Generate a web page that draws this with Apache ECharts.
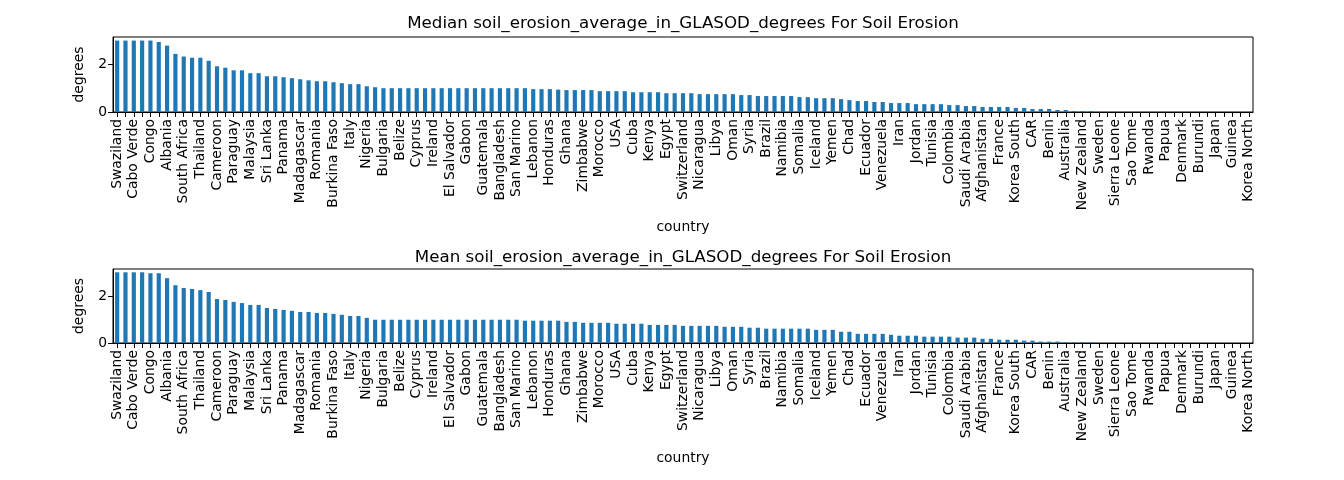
<!DOCTYPE html>
<html lang="en">
<head>
<meta charset="UTF-8">
<title>Soil Erosion</title>
<script src="https://cdn.jsdelivr.net/npm/echarts@6/dist/echarts.min.js"></script>
<style>
	html,body{margin:0;padding:0;background:#fff;}
	#chart{width:1344px;height:480px;}
</style>
</head>
<body>
<div id="chart"></div>
<script>
	// countries, sorted by median (every other one gets a label in the picture)
	var countries = ['Swaziland','Lesotho','Cabo Verde','Haiti','Congo','Nepal','Albania','Eritrea','South Africa','Ethiopia',
		'Thailand','Uganda','Cameroon','Tanzania','Paraguay','Mozambique','Malaysia','Malawi','Sri Lanka','Zambia',
		'Panama','Angola','Madagascar','Botswana','Romania','Mali','Burkina Faso','Niger','Italy','Senegal',
		'Nigeria','Togo','Bulgaria','Liberia','Belize','Sudan','Cyprus','Algeria','Ireland','Mauritania',
		'El Salvador','India','Gabon','Pakistan','Guatemala','China','Bangladesh','Vietnam','San Marino','Laos',
		'Lebanon','Cambodia','Honduras','Myanmar','Ghana','Philippines','Zimbabwe','Indonesia','Morocco','Mexico',
		'USA','Peru','Cuba','Bolivia','Kenya','Chile','Egypt','Argentina','Switzerland','Uruguay',
		'Nicaragua','Guyana','Libya','Suriname','Oman','Jamaica','Syria','Dominica','Brazil','Greece',
		'Namibia','Spain','Somalia','Portugal','Iceland','Turkey','Yemen','Iraq','Chad','Kuwait',
		'Ecuador','Qatar','Venezuela','Israel','Iran','Georgia','Jordan','Armenia','Tunisia','Hungary',
		'Colombia','Poland','Saudi Arabia','Germany','Afghanistan','Austria','France','Belgium','Korea South','Netherlands',
		'CAR','Norway','Benin','Finland','Australia','Canada','New Zealand','UK','Sweden','Fiji',
		'Sierra Leone','Mongolia','Sao Tome','Kazakhstan','Rwanda','Bhutan','Papua','Estonia','Denmark','Latvia',
		'Burundi','Serbia','Japan','Croatia','Guinea','Slovenia','Korea North'];

	var medianVals = [3.0,3.0,3.0,3.0,3.0,2.94,2.79,2.44,2.33,2.28,
		2.28,2.15,1.92,1.86,1.75,1.75,1.63,1.63,1.5,1.5,
		1.46,1.42,1.375,1.33,1.29,1.29,1.25,1.21,1.17,1.17,
		1.08,1.04,1.0,1.0,1.0,1.0,1.0,1.0,1.0,1.0,
		1.0,1.0,1.0,1.0,1.0,1.0,1.0,1.0,1.0,1.0,
		0.96,0.96,0.96,0.94,0.92,0.92,0.92,0.92,0.875,0.875,
		0.875,0.875,0.83,0.83,0.83,0.83,0.79,0.79,0.79,0.79,
		0.75,0.75,0.75,0.75,0.75,0.71,0.71,0.67,0.67,0.67,
		0.67,0.67,0.625,0.625,0.58,0.58,0.58,0.54,0.5,0.46,
		0.46,0.42,0.42,0.375,0.375,0.375,0.33,0.33,0.33,0.33,
		0.29,0.29,0.25,0.25,0.21,0.21,0.21,0.21,0.17,0.17,
		0.125,0.125,0.125,0.083,0.083,0.04,0.04,0.04,0,0,
		0,0,0,0,0,0,0,0,0,0,
		0,0,0,0,0,0,0];

	var meanVals = [3.01,3.01,3.01,3.01,2.97,2.97,2.76,2.46,2.34,2.30,
		2.25,2.17,1.87,1.83,1.75,1.70,1.62,1.62,1.49,1.45,
		1.41,1.37,1.32,1.32,1.28,1.28,1.24,1.20,1.15,1.15,
		1.07,0.99,0.99,0.99,0.99,0.99,0.99,0.99,0.99,0.99,
		0.99,0.99,0.99,0.99,0.99,0.99,0.99,0.99,0.99,0.95,
		0.95,0.95,0.95,0.95,0.90,0.90,0.86,0.86,0.86,0.86,
		0.82,0.82,0.82,0.82,0.77,0.77,0.77,0.77,0.73,0.73,
		0.73,0.73,0.73,0.69,0.69,0.69,0.65,0.65,0.61,0.61,
		0.61,0.61,0.61,0.61,0.56,0.56,0.56,0.48,0.48,0.39,
		0.39,0.39,0.39,0.35,0.31,0.31,0.31,0.27,0.27,0.27,
		0.27,0.23,0.23,0.23,0.18,0.18,0.14,0.14,0.14,0.10,
		0.10,0.06,0.06,0.06,0.03,0.03,0.03,0.03,0,0,
		0,0,0,0,0,0,0,0,0,0,
		0,0,0,0,0,0,0];

	var yTicks = [0, 2];
	var titles = ['Median soil_erosion_average_in_GLASOD_degrees For Soil Erosion',
		'Mean soil_erosion_average_in_GLASOD_degrees For Soil Erosion'];

	var font = 'DejaVu Sans';
	var myChart = echarts.init(document.getElementById('chart'));

	//一个子图的坐标轴
	function xAxisFor(idx){
		return {
			type:'category',
			gridIndex:idx,
			data:countries,
			name:'country',
			nameLocation:'middle',
			nameGap:108,
			nameTextStyle:{fontFamily:font,fontSize:13.9,color:'#000'},
			axisLine:{lineStyle:{color:'#000',width:1}},
			axisTick:{show:true,alignWithLabel:true,interval:0,length:5,lineStyle:{color:'#000'}},
			axisLabel:{interval:1,rotate:90,fontFamily:font,fontSize:13.9,color:'#000',margin:7}
		};
	}
	function yAxisFor(idx){
		return {
			type:'value',
			gridIndex:idx,
			min:yTicks[0],
			max:3.15,
			interval:yTicks[1]-yTicks[0],
			name:'degrees',
			nameLocation:'middle',
			nameGap:27,
			nameTextStyle:{fontFamily:font,fontSize:13.9,color:'#000'},
			splitLine:{show:false},
			axisLine:{show:true,lineStyle:{color:'#000',width:1}},
			axisTick:{show:true,length:5,lineStyle:{color:'#000'}},
			axisLabel:{fontFamily:font,fontSize:13.9,color:'#000',margin:6,showMaxLabel:false}
		};
	}

	var option = {
		animation:false,
		backgroundColor:'#fff',
		title:[
			{text:titles[0],left:678,top:10,textAlign:'center',textStyle:{fontFamily:font,fontSize:16.7,fontWeight:'normal',color:'#000'}},
			{text:titles[1],left:678,top:244,textAlign:'center',textStyle:{fontFamily:font,fontSize:16.7,fontWeight:'normal',color:'#000'}}
		],
		grid:[
			{left:113,right:91,top:37,height:75,show:true,borderColor:'#000',borderWidth:1},
			{left:113,right:91,top:269,height:74,show:true,borderColor:'#000',borderWidth:1}
		],
		xAxis:[xAxisFor(0),xAxisFor(1)],
		yAxis:[yAxisFor(0),yAxisFor(1)],
		series:[
			{type:'bar',xAxisIndex:0,yAxisIndex:0,data:medianVals,barWidth:'50%',itemStyle:{color:'#1f77b4'}},
			{type:'bar',xAxisIndex:1,yAxisIndex:1,data:meanVals,barWidth:'50%',itemStyle:{color:'#1f77b4'}}
		]
	};
	myChart.setOption(option);
</script>
</body>
</html>
